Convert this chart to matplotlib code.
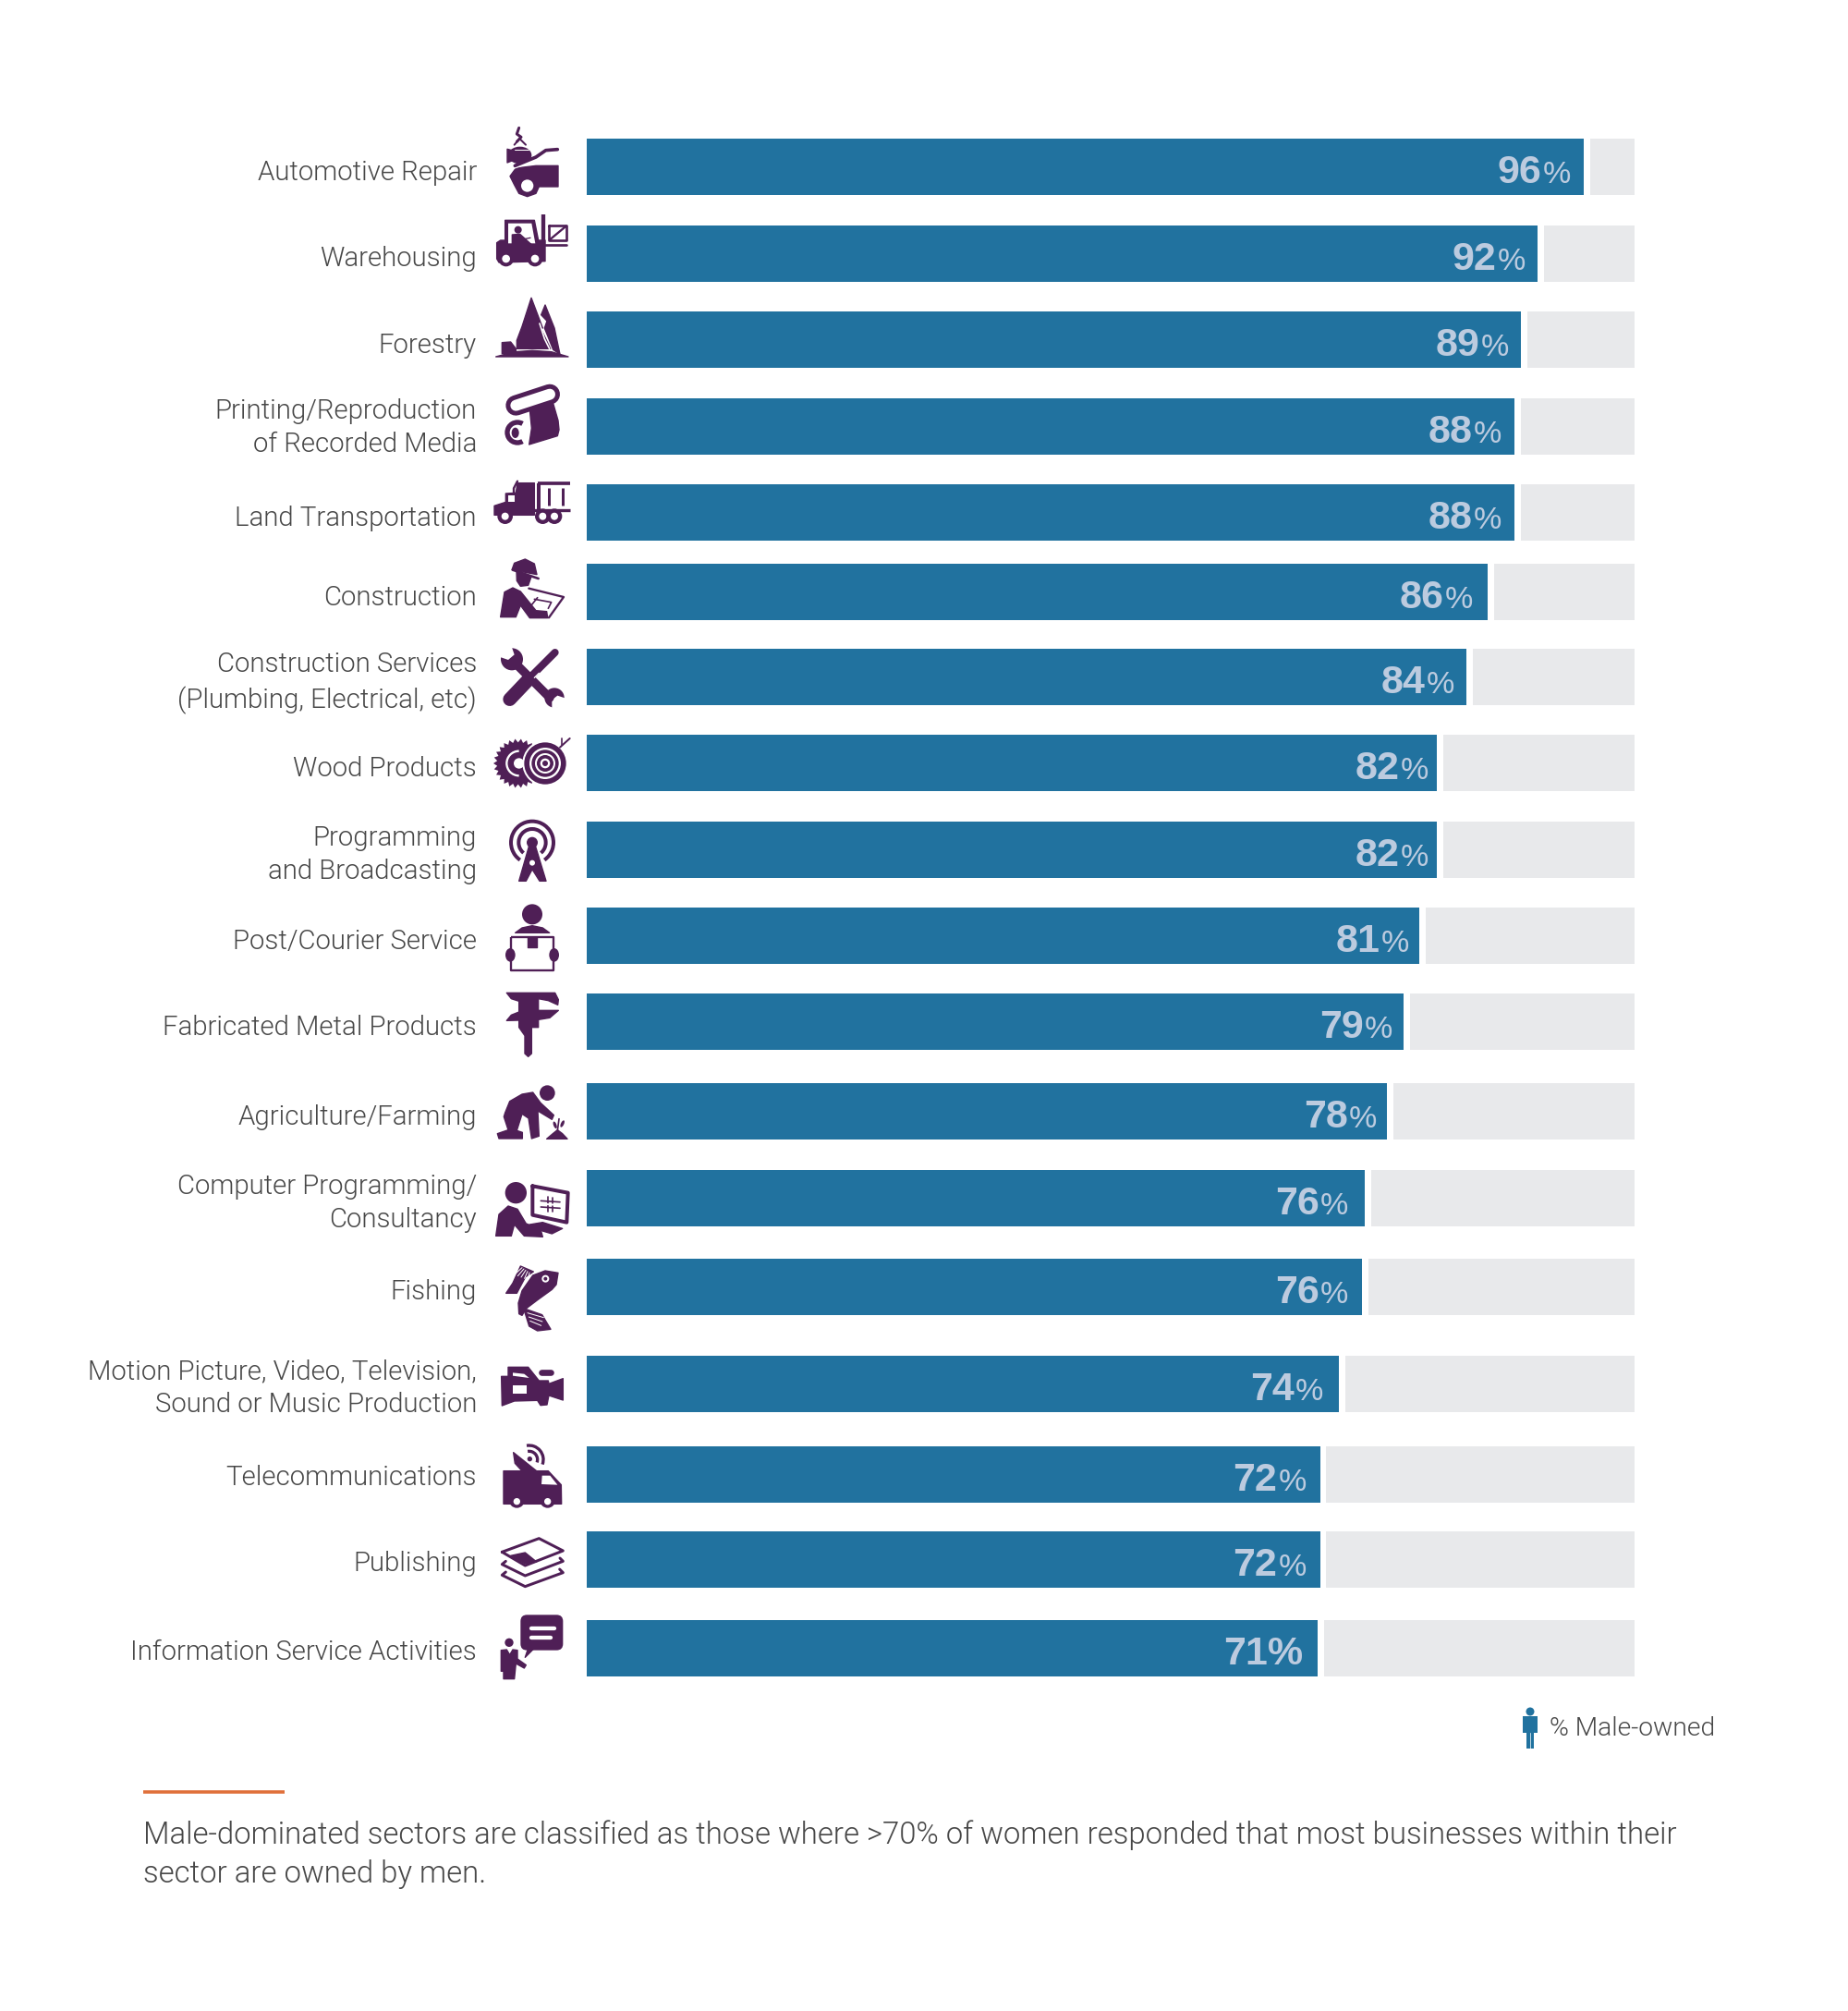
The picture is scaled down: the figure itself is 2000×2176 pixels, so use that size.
#!/usr/bin/env python3
"""Male-owned share by male-dominated sector: horizontal bars with a pictogram per row."""

import numpy as np
import matplotlib

matplotlib.use("Agg")
import matplotlib.pyplot as plt
from matplotlib.patches import Arc, Circle, Ellipse, FancyBboxPatch, Polygon, Rectangle

SECTORS = [
    "Automotive Repair", "Warehousing", "Forestry",
    "Printing/Reproduction\nof Recorded Media", "Land Transportation", "Construction",
    "Construction Services\n(Plumbing, Electrical, etc)", "Wood Products",
    "Programming\nand Broadcasting", "Post/Courier Service", "Fabricated Metal Products",
    "Agriculture/Farming", "Computer Programming/\nConsultancy", "Fishing",
    "Motion Picture, Video, Television,\nSound or Music Production", "Telecommunications",
    "Publishing", "Information Service Activities",
]
# printed values
MALE_PCT = [96, 92, 89, 88, 88, 86, 84, 82, 82, 81, 79, 78, 76, 76, 74, 72, 72, 71]
# drawn bar lengths, slightly off the printed values in the source
BAR_LENGTH = [95.15, 90.75, 89.2, 88.55, 88.55, 86.0, 83.96, 81.15, 81.15, 79.5, 78.0, 76.4,
              74.3, 74.0, 71.8, 70.0, 70.0, 69.8]

# layout, pixels: rows are not evenly spaced in the source
ROW_TOP = [150, 244, 337, 431, 524, 610, 702, 795, 889, 982, 1075, 1172, 1266, 1362, 1467,
           1565, 1657, 1753]
LABEL_Y = [187, 280, 374, 463, 561, 647, 739, 832, 925, 1019, 1112, 1209, 1302, 1398, 1502,
           1599, 1692, 1788]
VALUE_INSET = [14, 13, 13, 14, 14, 16, 13, 9, 9, 11, 12, 11, 18, 15, 17, 15, 15, 16]

BAR_H = 60.5
GAP = 0.6
BLUE = "#21729f"
GREY = "#e8e9eb"
VALUE_COL = "#bccbdf"
PURPLE = "#4f1f56"
TEXT_COL = "#474747"
ORANGE = "#e0703a"
FONT = "Liberation Sans"
LIGHT = "Roboto"

fig = plt.figure(figsize=(20, 21.76), dpi=100, facecolor="white")

# bars: x is percent, y is image pixels
ax = fig.add_axes([634.5 / 2000, 0, 1134.5 / 2000, 1])
ax.set_xlim(0, 100)
ax.set_ylim(2176, 0)
ax.axis("off")
centres = np.array(ROW_TOP) + BAR_H / 2
lengths = np.array(BAR_LENGTH)
ax.barh(centres, lengths, height=BAR_H, color=BLUE)
ax.barh(centres, 100 - lengths - GAP, left=lengths + GAP, height=BAR_H, color=GREY)

for i, (pct, length, top, inset) in enumerate(zip(MALE_PCT, BAR_LENGTH, ROW_TOP, VALUE_INSET)):
    base = top + BAR_H - 12.5
    if i == len(MALE_PCT) - 1:
        ax.annotate(f"{pct}%", (length, base), xytext=(-inset * 0.72, 0), textcoords="offset points",
                    ha="right", va="baseline", fontsize=31, fontweight="bold", color=VALUE_COL, family=FONT)
        continue
    ax.annotate("%", (length, base), xytext=(-inset * 0.72, 0), textcoords="offset points",
                ha="right", va="baseline", fontsize=24.5, color=VALUE_COL, family=FONT)
    ax.annotate(str(pct), (length, base), xytext=(-(inset + 31.5) * 0.72, 0), textcoords="offset points",
                ha="right", va="baseline", fontsize=31, fontweight="bold", color=VALUE_COL, family=FONT)

# everything else in image pixels
pg = fig.add_axes([0, 0, 1, 1], zorder=3)
pg.set_xlim(0, 2000)
pg.set_ylim(2176, 0)
pg.axis("off")
pg.patch.set_alpha(0)

for name, y in zip(SECTORS, LABEL_Y):
    pg.text(516, y, name, ha="right", va="center", fontsize=21.2, color=TEXT_COL, family=LIGHT,
            fontweight=300, linespacing=1.36)


class Icon:

    def __init__(self, ox, oy):
        self.ox, self.oy = ox, oy

    def p(self, x, y):
        return self.ox + x / 3, self.oy + y / 3

    def poly(self, pts, color=PURPLE, soft=1.0):
        pg.add_patch(Polygon([self.p(*q) for q in pts], closed=True, fc=color, ec=color, lw=soft,
                             joinstyle="round"))

    def circ(self, x, y, r, color=PURPLE):
        pg.add_patch(Circle(self.p(x, y), r / 3, fc=color, ec="none"))

    def oval(self, x, y, w, h, angle=0, color=PURPLE):
        pg.add_patch(Ellipse(self.p(x, y), w / 3, h / 3, angle=angle, fc=color, ec="none"))

    def line(self, pts, lw, color=PURPLE, cap="round", closed=False):
        q = [self.p(*a) for a in pts]
        if closed:
            q.append(q[0])
        pg.plot(*zip(*q), color=color, lw=lw / 3 * 0.72, solid_capstyle=cap, solid_joinstyle="round")

    def arc(self, x, y, r, a0, a1, lw, color=PURPLE):
        # angles on screen, clockwise from east because y is flipped
        pg.add_patch(Arc(self.p(x, y), 2 * r / 3, 2 * r / 3, theta1=a0, theta2=a1, color=color,
                         lw=lw / 3 * 0.72))


# Automotive repair
c = Icon(500, 120)
c.line([(185, 55), (178, 75), (192, 85), (178, 100)], 9)
c.line([(170, 110), (187, 90), (207, 110)], 6)
c.oval(188, 144, 76, 56)
c.poly([(147, 124), (162, 128), (162, 162), (147, 168)])
c.line([(172, 127), (215, 127)], 3, color="white")
c.line([(160, 186), (240, 160), (272, 138), (310, 134)], 10, color="white")
c.poly([(156, 212), (175, 186), (240, 178), (312, 178), (312, 246), (250, 246), (240, 268),
        (212, 278), (185, 268), (170, 240)])
c.line([(172, 178), (240, 150), (272, 128), (310, 125)], 11)
c.circ(212, 243, 20, "white")
# Warehousing
c.poly([(113, 428), (125, 420), (140, 420), (140, 355), (235, 355), (248, 420), (270, 420),
        (270, 488), (120, 492), (113, 480)])
c.poly([(150, 365), (226, 365), (238, 430), (150, 430)], "white", 0)
c.circ(182, 386, 12)
c.poly([(163, 402), (188, 400), (232, 440), (150, 440), (163, 435)])
c.line([(192, 418), (222, 412)], 4)
for wx in (143, 237):
    c.circ(wx, 480, 25)
    c.circ(wx, 480, 13, "white")
c.line([(263, 335), (263, 440)], 13, cap="butt")
c.line([(283, 372), (340, 372), (340, 420), (283, 420)], 8, closed=True)
c.line([(285, 418), (338, 374)], 7)
c.line([(270, 436), (340, 436)], 8)
# Forestry
c.poly([(225, 607), (262, 705), (255, 705), (287, 772), (178, 772), (178, 745), (195, 700)])
c.line([(252, 690), (268, 740), (284, 772)], 5, color="white")
c.poly([(270, 630), (300, 705), (318, 790), (296, 775), (268, 705), (276, 682), (257, 662)])
c.poly([(110, 798), (170, 782), (228, 778), (290, 782), (345, 798)])
c.poly([(130, 752), (158, 750), (175, 772), (175, 785), (130, 788)])

c = Icon(510, 400)
# Printing
c.line([(145, 116), (255, 80)], 66)
c.line([(145, 116), (255, 80)], 36, color="white")
c.circ(143, 118, 12)
c.poly([(190, 130), (265, 106), (282, 165), (285, 195), (280, 215), (188, 243), (196, 190)])
c.arc(150, 204, 33, 60, 300, 16)
c.oval(143, 205, 24, 34)
# Land transport
c.poly([(75, 442), (112, 430), (112, 402), (145, 400), (150, 368), (205, 368), (205, 472), (75, 472)])
c.line([(150, 362), (138, 385), (138, 400)], 7)
c.poly([(120, 408), (142, 408), (142, 430), (120, 430)], "white", 0)
c.line([(205, 456), (320, 456)], 10, cap="butt")
c.line([(215, 370), (320, 370)], 11, cap="butt")
c.line([(219, 370), (219, 460)], 12, cap="butt")
for bx in (253, 298):
    c.line([(bx, 385), (bx, 440)], 9, cap="butt")
for wx in (110, 232, 270):
    c.circ(wx, 476, 25)
    c.circ(wx, 476, 12, "white")
# Construction
c.poly([(132, 650), (140, 628), (175, 615), (205, 630), (213, 665)])
c.line([(135, 650), (218, 678)], 8)
c.poly([(147, 655), (195, 672), (185, 700), (160, 703), (148, 685)])
c.poly([(95, 803), (108, 722), (135, 708), (160, 720), (210, 782), (245, 785), (248, 806), (190, 806),
        (160, 765), (145, 803)])
c.line([(187, 710), (300, 738), (252, 805)], 7)
c.line([(205, 745), (260, 755), (250, 775)], 5)
c.line([(215, 740), (195, 765)], 5)
# Construction services
c.line([(190, 1000), (272, 918)], 24)
c.line([(125, 1070), (182, 1010)], 44)
c.line([(150, 960), (255, 1065)], 28)
c.circ(132, 940, 36)
c.poly([(100, 900), (128, 890), (140, 925), (120, 942), (85, 930)], "white", 0)
c.circ(270, 1065, 32)
c.poly([(300, 1095), (262, 1100), (262, 1072), (280, 1058), (310, 1068)], "white", 0)
c.line([(205, 1000), (220, 985)], 4, color="white")

c = Icon(510, 730)
# Wood products
n_teeth = 26
ang = np.linspace(0, 2 * np.pi, 2 * n_teeth, endpoint=False)
rad = np.where(np.arange(2 * n_teeth) % 2 == 0, 80, 68)
c.poly(list(zip(152 + rad * np.cos(ang), 288 + rad * np.sin(ang))), soft=0)
c.arc(155, 288, 40, 90, 270, 7, color="white")
c.circ(155, 288, 17, "white")
c.circ(240, 288, 74, "white")
c.circ(240, 288, 68)
c.circ(240, 288, 51, "white")
c.circ(240, 288, 44)
c.circ(240, 288, 33, "white")
c.circ(240, 288, 27)
c.circ(240, 288, 16, "white")
c.circ(240, 288, 9)
c.line([(288, 236), (320, 207)], 6)
c.line([(295, 228), (295, 207)], 5)
# Programming and broadcasting
c.arc(198, 545, 69, 125, 415, 12)
c.arc(198, 545, 44, 130, 410, 12)
c.circ(198, 545, 18)
c.poly([(188, 555), (208, 555), (243, 670), (222, 670), (198, 632), (178, 670), (155, 670)])
c.circ(198, 611, 9, "white")
# Post/courier
c.circ(198, 778, 33)
c.poly([(143, 838), (165, 822), (198, 815), (232, 822), (254, 838)])
c.line([(130, 853), (266, 853), (266, 960), (130, 960)], 7, cap="butt", closed=True)
c.poly([(184, 853), (212, 853), (212, 884), (184, 884)])
c.oval(127, 910, 32, 44)
c.oval(269, 910, 32, 44)

c = Icon(510, 1060)
# Fabricated metal
c.poly([(115, 43), (272, 43), (283, 65), (281, 82), (250, 68), (218, 62), (218, 100), (283, 100),
        (255, 124), (218, 130), (218, 155), (196, 155), (196, 240), (185, 250), (174, 240), (174, 182),
        (155, 155), (155, 132), (115, 133), (130, 115), (155, 105), (155, 70), (130, 62)])
# Agriculture
c.circ(247, 368, 25)
c.poly([(110, 432), (125, 395), (165, 372), (200, 366), (225, 400), (268, 440), (262, 454), (216, 426),
        (220, 508), (196, 516), (186, 450), (165, 436), (148, 490), (166, 496), (166, 516), (90, 516),
        (85, 500), (120, 488), (106, 445)])
c.poly([(245, 517), (265, 500), (280, 488), (296, 500), (312, 517)])
c.line([(280, 490), (285, 452)], 5)
c.oval(272, 472, 10, 24, angle=-20)
c.oval(296, 468, 10, 24, angle=25)
# Computer programming
c.circ(145, 692, 35)
c.poly([(80, 832), (90, 762), (120, 735), (150, 745), (178, 792), (225, 810), (232, 835), (172, 832),
        (140, 795), (130, 832)])
c.line([(199, 670), (314, 692), (310, 788), (199, 764)], 12, closed=True)
c.line([(226, 718), (288, 722)], 5)
c.line([(226, 738), (288, 742)], 5)
c.line([(250, 705), (250, 752)], 5)
c.line([(265, 707), (265, 754)], 5)
c.line([(228, 728), (286, 732)], 6, color="white")
c.poly([(190, 795), (232, 788), (296, 808), (262, 825), (218, 812)])
# Fishing
c.poly([(200, 960), (240, 945), (282, 952), (276, 990), (262, 1006), (215, 1040), (178, 1068), (165, 1090),
        (155, 1085), (153, 1050), (165, 1010)])
c.circ(241, 971, 12, "white")
c.circ(241, 971, 6)
c.poly([(113, 1018), (135, 985), (160, 930), (202, 948), (176, 965), (148, 1018)])
for k in range(5):
    c.line([(140 + k * 11, 958 + k * 4), (165 + k * 6, 935 + k * 4)], 3, color="white")
c.poly([(170, 1067), (230, 1088), (258, 1135), (215, 1140), (188, 1125)])
for k in range(3):
    c.line([(183 + k * 4, 1082 + k * 13), (235 - k * 4, 1097 + k * 13)], 3, color="white")

c = Icon(510, 1390)
# Motion picture
c.poly([(98, 298), (120, 298), (120, 268), (185, 268), (220, 312), (250, 312), (252, 322), (298, 305),
        (298, 375), (252, 360), (246, 390), (225, 392), (215, 376), (140, 378), (100, 393)])
c.poly([(135, 326), (180, 326), (180, 355), (135, 355)], "white", 0)
c.poly([(135, 286), (172, 290), (188, 303), (135, 296)], "white", 0)
c.line([(228, 286), (258, 286)], 20)
# Telecoms
c.poly([(105, 605), (250, 605), (292, 650), (293, 712), (105, 712)])
c.poly([(230, 620), (256, 620), (280, 650), (228, 648)], "white", 0)
for wx in (148, 248):
    c.circ(wx, 700, 25, PURPLE)
    c.circ(wx, 704, 11, "white")
c.poly([(137, 545), (212, 605), (165, 605), (142, 580)])
c.circ(190, 566, 8)
c.arc(188, 568, 27, -100, 20, 10)
c.arc(188, 568, 46, -100, 20, 10)

c = Icon(510, 1620)
# Publishing
c.line([(100, 178), (220, 134), (298, 174), (175, 222)], 9, closed=True)
c.poly([(128, 190), (175, 180), (212, 210), (175, 216)])
c.line([(112, 208), (100, 218), (175, 255), (298, 208), (288, 198)], 9)
c.line([(112, 243), (100, 253), (175, 290), (298, 245), (287, 234)], 9)
# Information services
pg.add_patch(FancyBboxPatch(c.p(160, 382), 138 / 3, 115 / 3, boxstyle="round,pad=0,rounding_size=7",
                            fc=PURPLE, ec="none"))
c.poly([(175, 520), (205, 490), (185, 490)])
c.line([(195, 427), (270, 427)], 13, color="white")
c.line([(195, 455), (258, 455)], 13, color="white")
c.circ(123, 472, 14)
c.poly([(97, 497), (115, 495), (125, 512), (135, 495), (150, 497), (150, 525), (178, 545), (172, 555),
        (145, 540), (140, 590), (105, 590), (105, 565), (97, 565)])

# legend pictogram
pg.add_patch(Circle((1656, 1852), 4.5, fc=BLUE, ec="none"))
pg.add_patch(Rectangle((1648, 1857), 16, 18, fc=BLUE, ec="none"))
pg.add_patch(Rectangle((1652, 1870), 8, 22, fc=BLUE, ec="none"))
pg.plot([1656, 1656], [1875, 1892], color="white", lw=0.5)
pg.text(1677, 1871, "% Male-owned", ha="left", va="center", fontsize=20.3, color=TEXT_COL, family=LIGHT,
        fontweight=300)

# footnote
pg.plot([155, 308], [1939, 1939], color=ORANGE, lw=2.6, solid_capstyle="butt")
pg.text(155, 1995, "Male-dominated sectors are classified as those where >70% of women responded that most businesses within their",
        ha="left", va="baseline", fontsize=23.7, color=TEXT_COL, family=LIGHT, fontweight=300)
pg.text(155, 2037, "sector are owned by men.", ha="left", va="baseline", fontsize=23.7, color=TEXT_COL, family=LIGHT,
        fontweight=300)

fig.savefig("out.png", dpi=100, facecolor="white")
